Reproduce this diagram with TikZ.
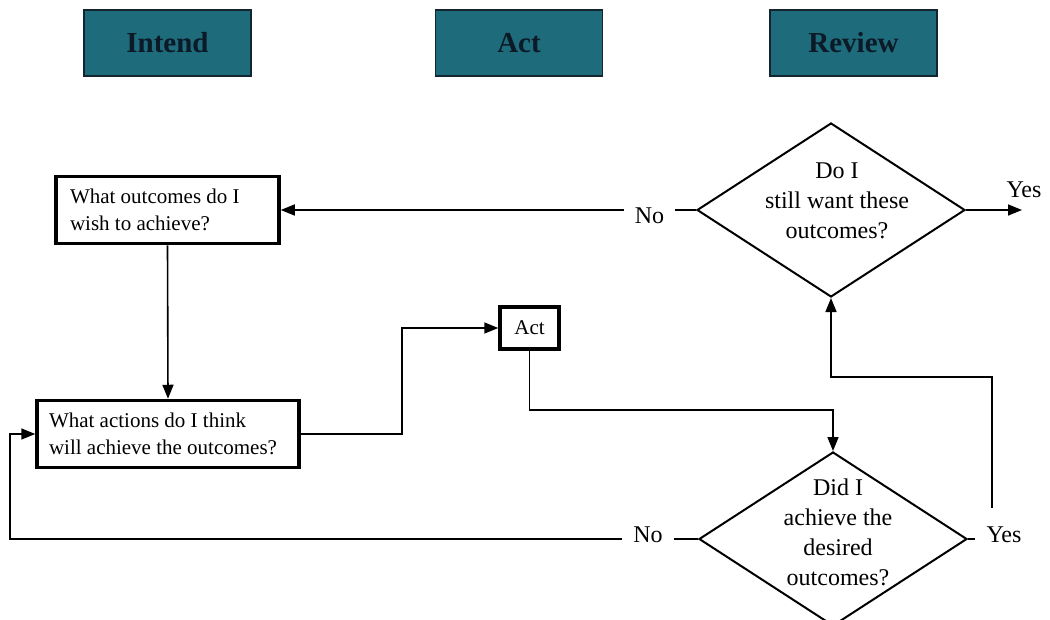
\documentclass[tikz,border=0pt]{standalone}
\usepackage{fontspec}
\setmainfont{Liberation Serif}
\usetikzlibrary{shapes.geometric, arrows.meta}
\definecolor{headfill}{HTML}{1E6B7B}
\definecolor{headline}{HTML}{15252F}
\definecolor{headtext}{HTML}{0B1A26}
\tikzset{
    head/.style = {draw=headline, line width=1.5pt, fill=headfill, text=headtext, minimum width=167pt, minimum height=66pt, font=\fontsize{29}{34}\selectfont\bfseries},
    qbox/.style = {draw, line width=3.5pt, align=flush left, inner xsep=14pt, minimum height=67pt, font=\fontsize{21}{27}\selectfont},
    decide/.style = {diamond, draw, line width=2pt, minimum width=268pt, minimum height=174pt, inner sep=0pt},
    qtext/.style = {align=center, font=\fontsize{24}{30}\selectfont},
    lbl/.style = {inner xsep=11pt, font=\fontsize{24}{29}\selectfont},
    wire/.style = {line width=1.6pt},
    arr/.style = {wire, -{Triangle[length=14pt, width=11pt]}}
}
\begin{document}
\begin{tikzpicture}[x=1pt, y=-1pt]
            \useasboundingbox (0, 0) rectangle (1050, 619);

            % column heads
            \node[head] (intend) at (167.5, 43) {Intend};
            \node[head] (acthead) at (519, 43) {Act};
            \node[head] (review) at (853.5, 43) {Review};

            \node[qbox, text width=195pt] (outcomes) at (167.5, 210) {What outcomes do I\\wish to achieve?};
            \node[qbox, inner xsep=12pt, text width=238pt] (actions) at (168, 434) {What actions do I think\\will achieve the outcomes?};
            \node[qbox, align=center, inner sep=4pt, minimum width=59pt, minimum height=42pt] (act) at (529.5, 328) {Act};

            \node[decide, label={[qtext, xshift=6pt, yshift=9pt]center:{Do I\\still want these\\outcomes?}}] (keep) at (831, 210) {};
            \node[decide, label={[qtext, xshift=5pt, yshift=7pt]center:{Did I\\achieve the\\desired\\outcomes?}}] (achieved) at (833, 539) {};

            \node[lbl] (noTop) at (649.5, 216) {No};
            \node[lbl] (yesTop) at (1024, 190) {Yes};
            \node[lbl] (noBot) at (648, 535) {No};
            \node[lbl] (yesBot) at (1004, 535) {Yes};

            \coordinate (yesEnd) at (1022, 210);
            \coordinate (riseFoot) at (992, 508);
            \coordinate (rise) at (992, 377);
            \coordinate (loopL) at (10, 539);

            \draw[wire] (keep.west) -- (keep.west -| noTop.east);
            \draw[arr] (keep.west -| noTop.west) -- (outcomes.east);
            \draw[arr] (keep.east) -- (yesEnd);
            \draw[arr] (outcomes.south) -- (actions.north);
            \draw[arr] (actions.east) -- ++(101, 0) |- (act.west);
            \draw[arr] (act.south) -- ++(0, 59) -| (achieved.north);
            \draw[wire] (achieved.west) -- (achieved.west -| noBot.east);
            \draw[arr] (achieved.west -| noBot.west) -- (loopL) |- (actions.west);
            \draw[wire] (achieved.east) -- (achieved.east -| yesBot.west);
            \draw[arr] (riseFoot) -- (rise) -| (keep.south);
\end{tikzpicture}
\end{document}
